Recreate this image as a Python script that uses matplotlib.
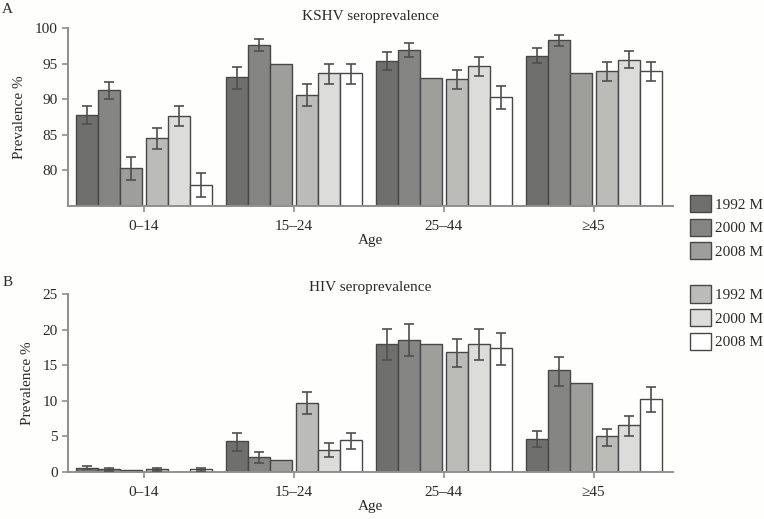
import numpy as np
import matplotlib.pyplot as plt
from matplotlib.patches import Patch

plt.rcParams['font.family'] = ['Liberation Serif', 'DejaVu Serif']

groups = ['0–14', '15–24', '25–44', '≥45']
series_labels = ['1992 M', '2000 M', '2008 M', '1992 M', '2000 M', '2008 M']
colors = ['#6f6f6d', '#858583', '#9e9e9b', '#bbbbb8', '#dcdcda', '#ffffff']

# KSHV seroprevalence (%), one list per series, values per age group
kshv_1992a = [87.8, 93.1, 95.4, 96.15]
kshv_2000a = [91.3, 97.6, 96.95, 98.3]
kshv_2008a = [80.3, 95.0, 93.0, 93.7]
kshv_1992b = [84.55, 90.6, 92.8, 93.95]
kshv_2000b = [87.6, 93.7, 94.7, 95.6]
kshv_2008b = [78.0, 93.7, 90.3, 93.95]

kshv_lo = [[86.5, 91.5, 94.2, 95.1], [90.1, 96.8, 95.9, 97.5], [78.6, np.nan, np.nan, np.nan],
           [83.0, 89.1, 91.5, 92.6], [86.3, 92.2, 93.3, 94.4], [76.3, 92.2, 88.7, 92.6]]
kshv_hi = [[89.1, 94.6, 96.6, 97.2], [92.5, 98.45, 97.9, 99.0], [81.9, np.nan, np.nan, np.nan],
           [86.0, 92.1, 94.2, 95.3], [89.0, 95.0, 95.9, 96.8], [79.6, 95.0, 91.9, 95.3]]

# HIV seroprevalence (%)
hiv_1992a = [0.6, 4.33, 18.0, 4.66]
hiv_2000a = [0.33, 2.07, 18.6, 14.3]
hiv_2008a = [0.2, 1.7, 17.97, 12.56]
hiv_1992b = [0.35, 9.73, 16.9, 4.99]
hiv_2000b = [0.0, 3.1, 18.05, 6.54]
hiv_2008b = [0.35, 4.43, 17.4, 10.25]

hiv_lo = [[0.35, 2.96, 15.75, 3.43], [0.15, 1.23, 16.3, 12.1], [np.nan, np.nan, np.nan, np.nan],
          [0.15, 8.09, 14.8, 3.67], [np.nan, 2.03, 15.75, 5.03], [0.15, 3.16, 15.1, 8.38]]
hiv_hi = [[0.85, 5.45, 20.17, 5.8], [0.5, 2.82, 20.87, 16.2], [np.nan, np.nan, np.nan, np.nan],
          [0.55, 11.24, 18.76, 6.07], [np.nan, 4.05, 20.17, 7.86], [0.55, 5.5, 19.56, 11.9]]

kshv = [kshv_1992a, kshv_2000a, kshv_2008a, kshv_1992b, kshv_2000b, kshv_2008b]
hiv = [hiv_1992a, hiv_2000a, hiv_2008a, hiv_1992b, hiv_2000b, hiv_2008b]

width = 0.1467
offsets = [-0.38, -0.2333, -0.0867, 0.0867, 0.2333, 0.38]
x = np.arange(len(groups))

fig = plt.figure(figsize=(7.64, 5.19), dpi=100, facecolor='#fefefc')
ax1 = fig.add_axes([0.089, 0.603, 0.792, 0.3425])
ax2 = fig.add_axes([0.089, 0.091, 0.792, 0.342])


def draw(ax, data, lo, hi, ylim, yticks, title, title_pad):
    ax.set_facecolor('#fefefc')
    base = ylim[0]
    for i, vals in enumerate(data):
        vals = np.array(vals)
        ax.bar(x + offsets[i], vals - base, width, bottom=base, color=colors[i],
               edgecolor='#474747', linewidth=1.0, zorder=2)
        l = np.array(lo[i])
        h = np.array(hi[i])
        ok = ~np.isnan(l)
        if ok.any():
            ax.errorbar(x[ok] + offsets[i], vals[ok], yerr=[vals[ok] - l[ok], h[ok] - vals[ok]],
                        fmt='none', ecolor='#4f4f4f', elinewidth=1.2, capsize=3.6,
                        capthick=1.2, zorder=3)
    ax.set_xlim(-0.507, 3.53)
    ax.set_ylim(*ylim)
    ax.set_yticks(yticks)
    ax.set_xticks(x)
    ax.set_xticklabels(groups)
    for s in ['top', 'right']:
        ax.spines[s].set_visible(False)
    for s in ['left', 'bottom']:
        ax.spines[s].set_color('#8f8f8f')
        ax.spines[s].set_linewidth(1.4)
    ax.tick_params(axis='both', colors='#8f8f8f', labelcolor='#2a2a2a', labelsize=11,
                   length=4, width=1.2)
    ax.tick_params(axis='x', pad=6)
    ax.set_ylabel('Prevalence %', fontsize=11, color='#2a2a2a', labelpad=6)
    ax.set_xlabel('Age', fontsize=11, color='#2a2a2a', labelpad=1)
    ax.set_title(title, fontsize=11, color='#2a2a2a', pad=title_pad)


draw(ax1, kshv, kshv_lo, kshv_hi, (75, 100), [80, 85, 90, 95, 100], 'KSHV seroprevalence', 6)
draw(ax2, hiv, hiv_lo, hiv_hi, (0, 25), [0, 5, 10, 15, 20, 25], 'HIV seroprevalence', 1)

fig.text(0.003, 0.995, 'A', fontsize=11, color='#2a2a2a', va='top')
fig.text(0.003, 0.469, 'B', fontsize=11, color='#2a2a2a', va='top')

handles = [Patch(facecolor=colors[i], edgecolor='#474747', linewidth=1.0) for i in range(6)]
leg_kw = dict(frameon=False, fontsize=11, handlelength=1.35, handleheight=1.35,
              labelspacing=0.42, handletextpad=0.3, borderaxespad=0, borderpad=0,
              labelcolor='#2a2a2a')
fig.legend(handles[:3], series_labels[:3], loc='upper left',
           bbox_to_anchor=(0.903, 0.624), **leg_kw)
fig.legend(handles[3:], series_labels[3:], loc='upper left',
           bbox_to_anchor=(0.903, 0.450), **leg_kw)

fig.savefig('out.png', dpi=100, facecolor=fig.get_facecolor())
